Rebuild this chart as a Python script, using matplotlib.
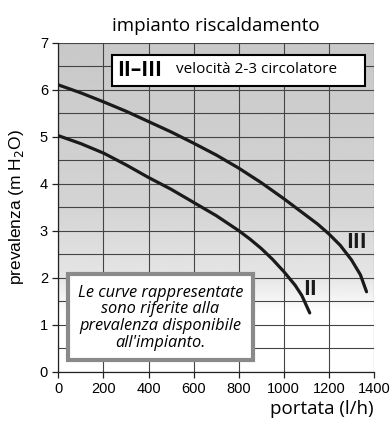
import numpy as np
import matplotlib.pyplot as plt
from matplotlib.patches import Rectangle

# curve II (speed 2) and curve III (speed 3)
x_II = [0, 100, 200, 300, 400, 500, 600, 700, 800, 850, 900, 950, 1000, 1050, 1080, 1115]
y_II = [5.02, 4.85, 4.65, 4.40, 4.13, 3.88, 3.60, 3.32, 3.00, 2.82, 2.62, 2.39, 2.13, 1.84, 1.62, 1.25]
x_III = [0, 100, 200, 300, 400, 500, 600, 700, 800, 900, 1000, 1100, 1150, 1200, 1250, 1300, 1340, 1367]
y_III = [6.10, 5.93, 5.74, 5.54, 5.32, 5.10, 4.86, 4.61, 4.33, 4.02, 3.68, 3.32, 3.14, 2.93, 2.69, 2.38, 2.06, 1.70]

xticks = [0, 200, 400, 600, 800, 1000, 1200, 1400]
yticks = [0, 1, 2, 3, 4, 5, 6, 7]

fig = plt.figure(figsize=(3.92, 4.26), dpi=100)
ax = fig.add_axes([0.149, 0.1275, 0.805, 0.7725])

# background gradient: gray at top fading to white near 1 m
yy = np.linspace(0, 7, 400)
shade = np.interp(yy, [0, 1.25, 2.0, 3.5, 7], [1.0, 1.0, 0.9, 0.83, 0.785])
img = np.repeat(shade[:, None], 2, axis=1)
ax.imshow(img, extent=[0, 1400, 0, 7], origin='lower', aspect='auto',
          cmap='gray', vmin=0, vmax=1, zorder=0)

ax.set_xlim(0, 1400)
ax.set_ylim(0, 7)
ax.set_xticks(xticks)
ax.set_yticks(yticks)
ax.set_yticks(np.arange(0, 7.01, 0.5), minor=True)
ax.tick_params(which='minor', length=0)
ax.tick_params(which='major', length=4, width=0.9, color='#222222', labelsize=10.5)
for lab in ax.get_xticklabels() + ax.get_yticklabels():
    lab.set_family('Liberation Sans')
ax.grid(True, which='both', color='#444444', linewidth=0.8, zorder=1)
for side in ['top', 'right']:
    ax.spines[side].set_visible(False)
for side in ['left', 'bottom']:
    ax.spines[side].set_color('#222222')
    ax.spines[side].set_linewidth(0.9)

ax.plot(x_II, y_II, color='#1a1a1a', linewidth=2.3, solid_capstyle='round', zorder=3)
ax.plot(x_III, y_III, color='#1a1a1a', linewidth=2.3, solid_capstyle='round', zorder=3)

ax.text(1118, 1.74, 'II', fontsize=15, fontweight='bold', family='Open Sans',
        ha='center', va='center', color='#1a1a1a', zorder=4)
ax.text(1322, 2.74, 'III', fontsize=15, fontweight='bold', family='Open Sans',
        ha='center', va='center', color='#1a1a1a', zorder=4)

# legend box
ax.add_patch(Rectangle((238, 6.08), 1120, 0.66, facecolor='white',
                       edgecolor='black', linewidth=1.5, zorder=5))
ax.text(262, 6.40, 'II–III', fontsize=15, fontweight='bold', family='Open Sans',
        ha='left', va='center', zorder=6)
ax.text(520, 6.42, 'velocità 2-3 circolatore', fontsize=11, family='Open Sans',
        ha='left', va='center', zorder=6)

# note box
ax.add_patch(Rectangle((43, 0.25), 820, 1.82, facecolor='white',
                       edgecolor='#8a8a8a', linewidth=3, zorder=5))
ax.text(453, 1.15, "Le curve rappresentate\nsono riferite alla\nprevalenza disponibile\nall'impianto.",
        fontsize=11.8, style='italic', family='Open Sans', ha='center', va='center',
        linespacing=1.05, zorder=6)

ax.set_title('impianto riscaldamento', fontsize=13.5, family='Open Sans', pad=8)
ax.set_ylabel('prevalenza (m H$_2$O)', fontsize=12.5, family='Liberation Sans', labelpad=10)
ax.set_xlabel('portata (l/h)', fontsize=13.5, family='Open Sans', loc='right', labelpad=3)

fig.savefig('out.png', dpi=100)
